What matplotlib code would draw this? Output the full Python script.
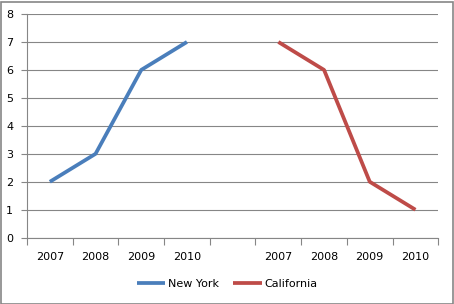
import matplotlib
matplotlib.use("Agg")
import matplotlib.pyplot as plt
from matplotlib.patches import Rectangle
import numpy as np

categories = ['2007', '2008', '2009', '2010', '', '2007', '2008', '2009', '2010']
new_york = [2, 3, 6, 7, None, None, None, None, None]
california = [None, None, None, None, None, 7, 6, 2, 1]
yticks = [0, 1, 2, 3, 4, 5, 6, 7, 8]

plt.rcParams['font.family'] = ['DejaVu Sans']
W, H = 454, 304
fig = plt.figure(figsize=(W / 100, H / 100), dpi=100)
ax = fig.add_axes([27 / W, 1 - 237.7 / H, (438.3 - 27) / W, (237.7 - 14) / H])

x = np.arange(len(categories))
ny = np.array([np.nan if v is None else v for v in new_york], dtype=float)
ca = np.array([np.nan if v is None else v for v in california], dtype=float)

ax.plot(x, ny, color='#4A7EBB', lw=2.7, solid_capstyle='butt', label='New York', zorder=3)
ax.plot(x, ca, color='#BE4B48', lw=2.7, solid_capstyle='butt', label='California', zorder=3)

ax.set_xlim(-0.5, len(categories) - 0.5)
ax.set_ylim(0, 8)
ax.set_yticks(yticks)
ax.set_yticklabels([str(v) for v in yticks])
ax.set_xticks(x)
ax.set_xticklabels(categories)
ax.set_xticks(np.arange(-0.5, len(categories)), minor=True)
ax.tick_params(axis='x', which='major', length=0, pad=10, labelsize=8, colors='black')
ax.tick_params(axis='x', which='minor', length=5, width=0.8, color='#868686', direction='out')
ax.tick_params(axis='y', which='major', length=4, width=0.8, color='#868686', pad=6, labelsize=8)

ax.grid(axis='y', color='#868686', lw=0.8, zorder=0)
ax.set_axisbelow(True)
for s in ['top', 'right']:
    ax.spines[s].set_visible(False)
for s in ['left', 'bottom']:
    ax.spines[s].set_color('#868686')
    ax.spines[s].set_linewidth(0.8)

leg = fig.legend(loc='center', bbox_to_anchor=(0.5, 1 - 284 / H), ncol=2, frameon=False,
                 fontsize=8, handlelength=2.6, handletextpad=0.2, columnspacing=1.3)

fig.patches.append(Rectangle((0.5 / W, 0.5 / H), (W - 2) / W, (H - 2) / H, transform=fig.transFigure,
                             fill=False, edgecolor='#868686', lw=1.2))

fig.savefig('out.png', dpi=100)
